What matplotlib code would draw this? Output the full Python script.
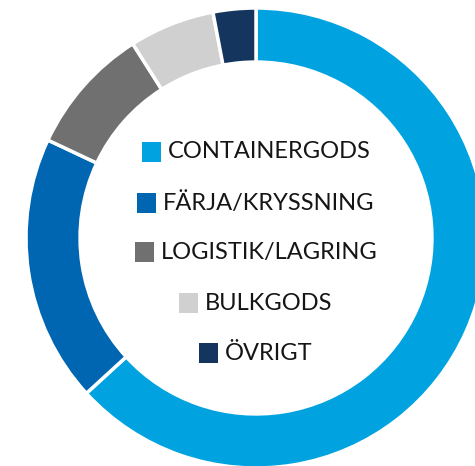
import matplotlib
matplotlib.use("Agg")
import matplotlib.pyplot as plt
from matplotlib.offsetbox import AnchoredOffsetbox, DrawingArea, HPacker, TextArea
from matplotlib.patches import Rectangle

labels = ["CONTAINERGODS", "FÄRJA/KRYSSNING", "LOGISTIK/LAGRING", "BULKGODS", "ÖVRIGT"]
shares = [63.2, 18.8, 9.0, 6.0, 3.0]
colors = ["#00a3e0", "#0066b1", "#707070", "#d0d0d0", "#14365e"]

plt.rcParams["font.family"] = ["Lato", "DejaVu Sans"]

fig = plt.figure(figsize=(4.75, 4.66), dpi=100)
# donut centre at (256, 238) px, outer radius 230 px
ax = fig.add_axes([26 / 475, (466 - 238 - 230) / 466, 460 / 475, 460 / 466])
ax.pie(shares, colors=colors, startangle=90, counterclock=False, radius=1,
       wedgeprops=dict(width=0.235, edgecolor="white", linewidth=2.5))
ax.set_xlim(-1, 1)
ax.set_ylim(-1, 1)
ax.set_aspect("equal")
ax.axis("off")

# centred legend rows inside the ring
row_y = [152, 203, 252, 303, 353]
sq = 13.7
for lab, col, y in zip(labels, colors, row_y):
    da = DrawingArea(sq, sq, 0, 0)
    da.add_artist(Rectangle((0, 0), sq, sq, facecolor=col, edgecolor="none"))
    ta = TextArea(lab, textprops=dict(fontsize=17, color="#151515"))
    row = HPacker(children=[da, ta], align="center", pad=0, sep=5)
    box = AnchoredOffsetbox(loc="center", child=row, pad=0, frameon=False,
                            bbox_to_anchor=(256 / 475, 1 - y / 466),
                            bbox_transform=fig.transFigure, borderpad=0)
    fig.add_artist(box)

fig.savefig("out.png", dpi=100)
